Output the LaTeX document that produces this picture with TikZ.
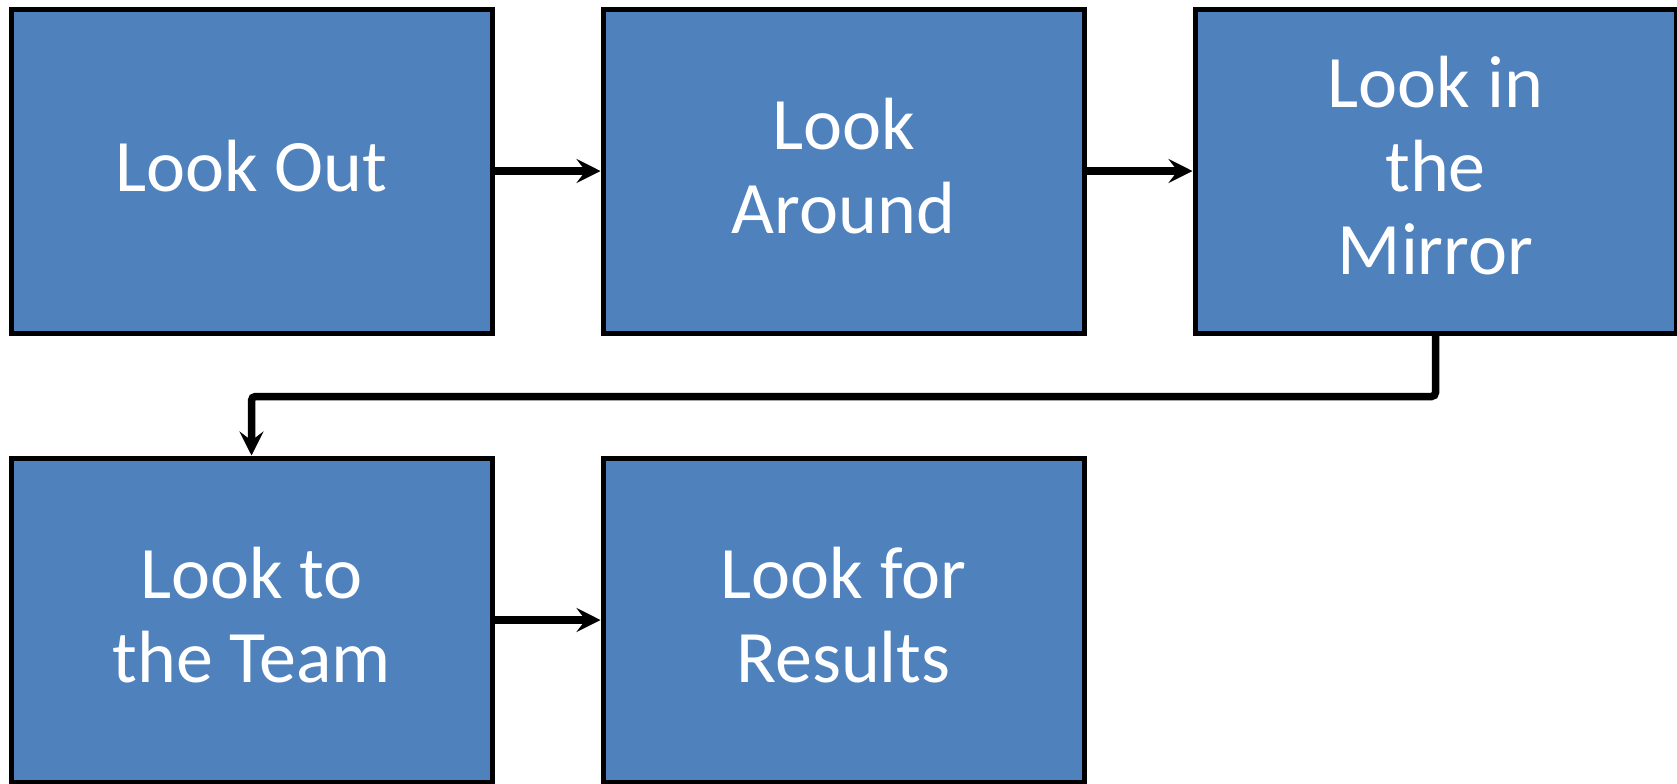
\documentclass[tikz,border=0pt]{standalone}
\usepackage{fontspec}
\setmainfont{Carlito}
\usetikzlibrary{arrows.meta,positioning}
\definecolor{boxblue}{HTML}{4F81BD}

\begin{document}
\begin{tikzpicture}[
  node distance=60pt and 53pt,
  phase/.style={draw, line width=2.5pt, fill=boxblue, text=white, align=center,
    minimum width=240.5pt, minimum height=162pt, inner sep=0pt, text depth=5.4pt,
    font=\fontsize{37pt}{41.75pt}\selectfont},
  flow/.style={line width=3.75pt, rounded corners=2pt,
    -{Stealth[length=12pt, width=12pt, inset=4.5pt]}}
]
\useasboundingbox (0,0) rectangle (838.5pt,-391.5pt);
\node[phase, anchor=north west] (out) at (4.25pt,-3.25pt) {Look Out};
\node[phase, right=of out] (around) {Look\\Around};
\node[phase, right=of around] (mirror) {Look in\\the\\Mirror};
\node[phase, below=of out] (team) {Look to\\the Team};
\node[phase, right=of team] (results) {Look for\\Results};

\draw[flow] (out) -- (around);
\draw[flow] (around) -- (mirror);
\draw[flow] (mirror.south) -- ++(0,-30.5pt) -| (team.north);
\draw[flow] (team) -- (results);
\end{tikzpicture}
\end{document}
